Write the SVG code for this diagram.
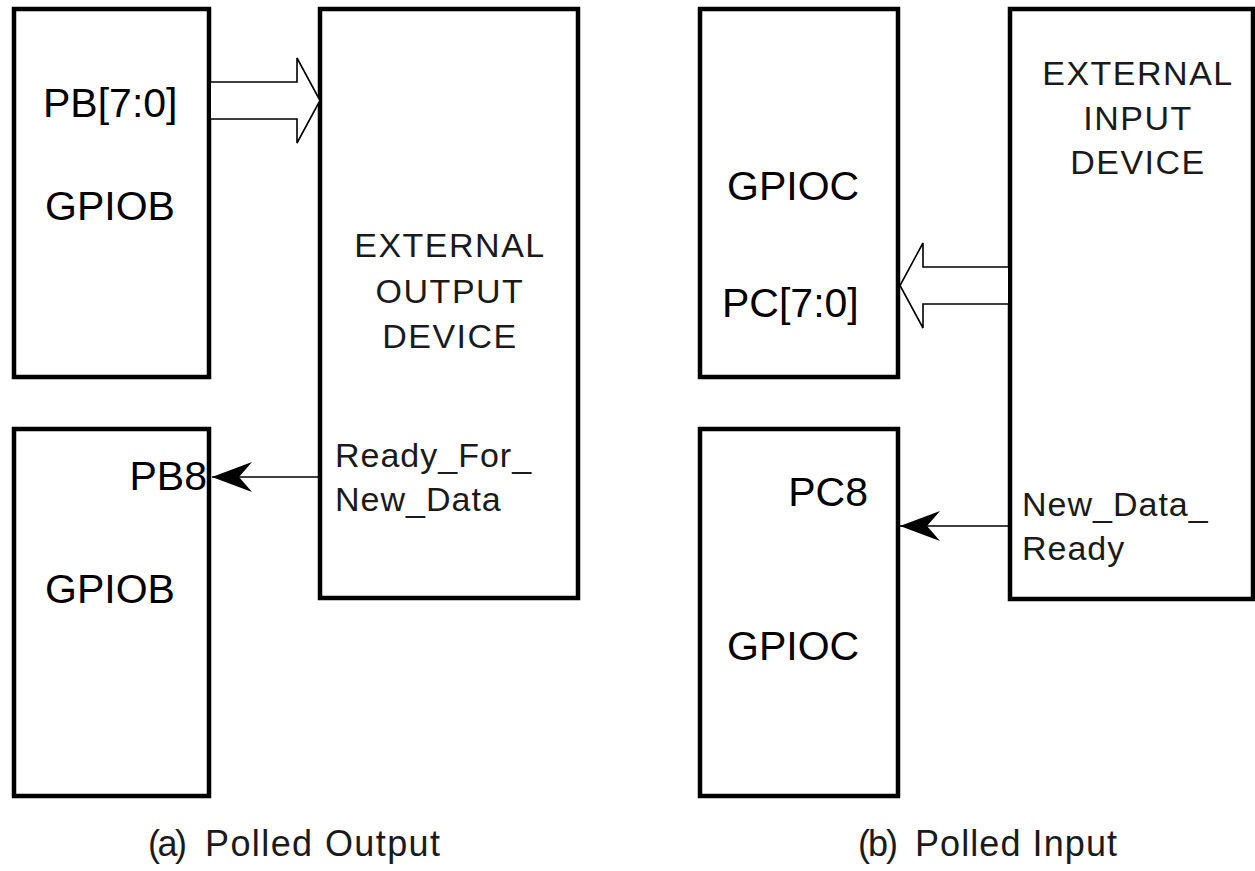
<svg xmlns="http://www.w3.org/2000/svg" width="1255" height="871" viewBox="0 0 1255 871">
<style>
  .box{fill:#fff;stroke:#000;stroke-width:4.5}
  .big{font-family:"Liberation Sans",Arial,sans-serif;font-size:41px;fill:#000}
  .dev{font-family:"Liberation Sans",Arial,sans-serif;font-size:34px;fill:#1a1a1a;letter-spacing:1.5px;text-anchor:middle}
  .sig{font-family:"Liberation Sans",Arial,sans-serif;font-size:34px;fill:#1a1a1a;letter-spacing:1px}
  .cap{font-family:"Liberation Sans",Arial,sans-serif;font-size:36px;fill:#1a1a1a}
  .wire{fill:none;stroke:#000;stroke-width:1.6}
  .bus{fill:#fff;stroke:#000;stroke-width:1.6;stroke-linejoin:miter}
</style>
<defs>
  <marker id="ah" markerUnits="userSpaceOnUse" markerWidth="42" markerHeight="34" viewBox="0 -17 42 34" refX="40" refY="0" orient="auto">
    <path d="M0,-15 L40,0 L0,15 L13,0 Z" fill="#000"/>
  </marker>
</defs>
<rect width="1255" height="871" fill="#fff"/>

<g id="gpiob-top">
  <rect class="box" x="14" y="9" width="195" height="368"/>
  <text class="big" x="43" y="117">PB[7:0]</text>
  <text class="big" x="45" y="220">GPIOB</text>
</g>
<g id="gpiob-bottom">
  <rect class="box" x="14" y="429" width="195" height="367"/>
  <text class="big" x="207" y="490" text-anchor="end">PB8</text>
  <text class="big" x="45" y="603">GPIOB</text>
</g>
<g id="ext-output">
  <rect class="box" x="320" y="9" width="258" height="589"/>
  <text class="dev" x="450" y="257">EXTERNAL</text>
  <text class="dev" x="450" y="303">OUTPUT</text>
  <text class="dev" x="450" y="348">DEVICE</text>
  <text class="sig" x="335" y="467">Ready_For_</text>
  <text class="sig" x="335" y="511">New_Data</text>
</g>
<g id="gpioc-top">
  <rect class="box" x="700" y="9" width="198" height="368"/>
  <text class="big" x="727" y="200">GPIOC</text>
  <text class="big" x="722" y="317">PC[7:0]</text>
</g>
<g id="gpioc-bottom">
  <rect class="box" x="700" y="429" width="198" height="367"/>
  <text class="big" x="868" y="506" text-anchor="end">PC8</text>
  <text class="big" x="727" y="660">GPIOC</text>
</g>
<g id="ext-input">
  <rect class="box" x="1010" y="9" width="243" height="590"/>
  <text class="dev" x="1138" y="85">EXTERNAL</text>
  <text class="dev" x="1138" y="130">INPUT</text>
  <text class="dev" x="1138" y="174">DEVICE</text>
  <text class="sig" x="1022" y="516">New_Data_</text>
  <text class="sig" x="1022" y="560">Ready</text>
</g>

<g id="connectors">
  <path class="bus" d="M211,82 H297 V58 L320,100.5 L297,143 V119 H211"/>
  <path class="bus" d="M1008,267 H923 V243 L900,285.5 L923,328 V304 H1008"/>
  <line class="wire" x1="318" y1="477" x2="212" y2="477" marker-end="url(#ah)"/>
  <line class="wire" x1="1008" y1="526" x2="900" y2="526" marker-end="url(#ah)"/>
</g>

<g id="captions">
  <text class="cap" x="148" y="856" textLength="39" lengthAdjust="spacing">(a)</text>
  <text class="cap" x="205" y="856" textLength="235" lengthAdjust="spacing">Polled Output</text>
  <text class="cap" x="858" y="856" textLength="40" lengthAdjust="spacing">(b)</text>
  <text class="cap" x="915" y="856" textLength="202" lengthAdjust="spacing">Polled Input</text>
</g>
</svg>
